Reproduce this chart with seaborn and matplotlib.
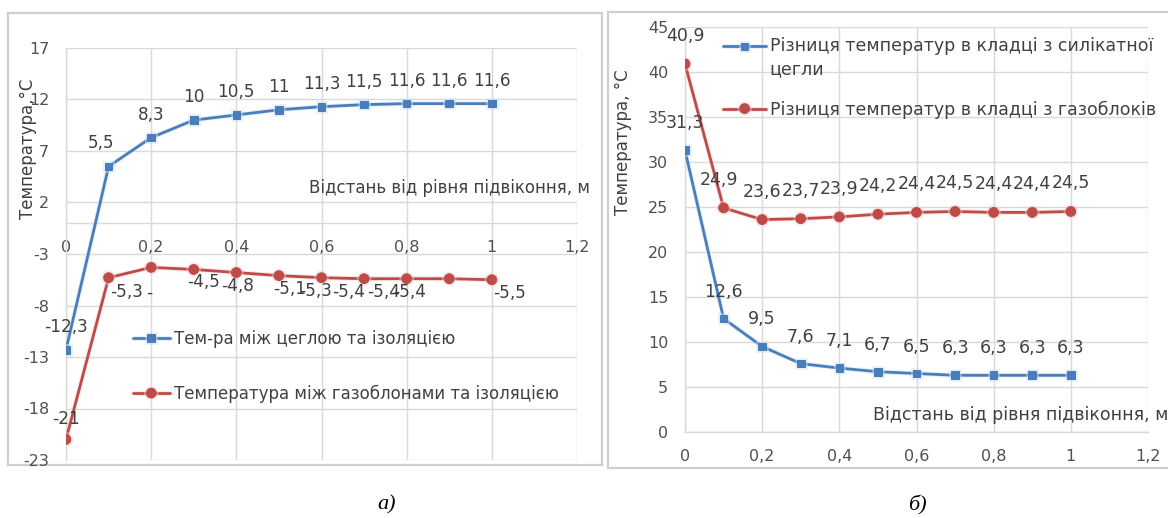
import matplotlib
matplotlib.use("Agg")
import matplotlib.pyplot as plt
import matplotlib.patheffects as pe
import matplotlib.transforms as mtransforms
from matplotlib.patches import Rectangle
from matplotlib.transforms import Bbox, TransformedBbox
from matplotlib.legend_handler import HandlerLine2D
import pandas as pd
import seaborn as sns

# ---------------- data ----------------
distance = [0.0, 0.1, 0.2, 0.3, 0.4, 0.5, 0.6, 0.7, 0.8, 0.9, 1.0]

# chart a)
brick_insul = [-12.3, 5.5, 8.3, 10, 10.5, 11, 11.3, 11.5, 11.6, 11.6, 11.6]
gasblock_insul = [-21, -5.3, -4.3, -4.5, -4.8, -5.1, -5.3, -5.4, -5.4, -5.4, -5.5]
gasblock_insul_labels = ["-21", "-5,3", "-", "-4,5", "-4,8", "-5,1", "-5,3", "-5,4", "-5,4", "-5,4", "-5,5"]
name_a_blue = "Тем-ра між цеглою та ізоляцією"
name_a_red = "Температура між газоблонами та ізоляцією"

# chart б)
silicate_diff = [31.3, 12.6, 9.5, 7.6, 7.1, 6.7, 6.5, 6.3, 6.3, 6.3, 6.3]
gasblock_diff = [40.9, 24.9, 23.6, 23.7, 23.9, 24.2, 24.4, 24.5, 24.4, 24.4, 24.5]
name_b_blue = "Різниця температур в кладці з силікатної\nцегли"
name_b_red = "Різниця температур в кладці з газоблоків"

x_ticks = [0, 0.2, 0.4, 0.6, 0.8, 1.0, 1.2]
x_ticklabels = ["0", "0,2", "0,4", "0,6", "0,8", "1", "1,2"]
ya_ticks = [-23, -18, -13, -8, -3, 2, 7, 12, 17]
yb_ticks = [0, 5, 10, 15, 20, 25, 30, 35, 40, 45]

xlabel = "Відстань від рівня підвіконня, м"

# ---------------- style ----------------
BLUE = "#4a7ebb"
RED = "#be4b48"
GRID = "#d9d9d9"
TXT = "#404040"
FSA = 12.2   # chart a) texts
FSB = 12.5   # chart б) texts
TFS = 11.5   # tick labels

sns.set_theme(style="white")
plt.rcParams["font.family"] = ["DejaVu Sans"]

W, H = 1168, 518
fig = plt.figure(figsize=(W / 100, H / 100), dpi=100)

def fx(px):
    return px / W

def fy(py):
    return 1 - py / H

# chart boxes
for (x0, y0, x1, y1) in [(8, 13, 602, 465), (608, 12, 1172, 468)]:
    fig.patches.append(Rectangle((fx(x0), fy(y1)), fx(x1 - x0), (y1 - y0) / H,
                                 transform=fig.transFigure, facecolor="white",
                                 edgecolor="#cfcfcf", linewidth=1.6, zorder=-10))

axA = fig.add_axes([fx(66), fy(460), fx(577 - 66), (460 - 48) / H])
axB = fig.add_axes([fx(685), fy(432), fx(1148 - 685), (432 - 27) / H])
axA.set_zorder(5)
axB.set_zorder(5)

def fmt(v):
    s = f"{v:g}"
    return s.replace(".", ",")

def style_axes(ax, yticks):
    ax.set_facecolor("none")
    ax.set_xlim(0, 1.2)
    ax.set_ylim(min(yticks), max(yticks))
    ax.set_xticks(x_ticks)
    ax.set_xticklabels(x_ticklabels)
    ax.set_yticks(yticks)
    ax.set_yticklabels([fmt(t) for t in yticks])
    ax.grid(True, color=GRID, linewidth=1.0)
    ax.tick_params(axis="both", length=0, labelsize=TFS, colors="#505050")
    ax.tick_params(axis="x", pad=12)
    ax.tick_params(axis="y", pad=12)
    for s in ["top", "right"]:
        ax.spines[s].set_visible(False)
    ax.spines["bottom"].set_position(("data", 0))
    ax.spines["left"].set_position(("data", 0))
    for s in ["bottom", "left"]:
        ax.spines[s].set_color(GRID)
        ax.spines[s].set_linewidth(1.0)

def draw_series(ax, y, color, marker, ms, label, halo):
    df = pd.DataFrame({"x": distance, "y": y})
    sns.lineplot(data=df, x="x", y="y", ax=ax, color=color, marker=marker,
                 markersize=ms, markeredgecolor=color, linewidth=2.0,
                 label=label, zorder=3)
    ln = ax.lines[-1]
    ln.set_path_effects([pe.Stroke(linewidth=3.6, foreground=halo, alpha=0.45), pe.Normal()])

class TopHandler(HandlerLine2D):
    """Legend handle aligned with the first line of a two-line label."""
    def __init__(self, shift, **kw):
        super().__init__(**kw)
        self.shift = shift

    def create_artists(self, legend, orig_handle, xdescent, ydescent, width,
                       height, fontsize, trans):
        t = mtransforms.Affine2D().translate(0, self.shift) + trans
        return super().create_artists(legend, orig_handle, xdescent, ydescent,
                                      width, height, fontsize, t)

# ---- chart a)
style_axes(axA, ya_ticks)
draw_series(axA, brick_insul, BLUE, "s", 5.5, name_a_blue, "#cfe2f6")
draw_series(axA, gasblock_insul, RED, "o", 7, name_a_red, "#f3d2d2")

blue_a_dx = [0, -8, 0, 0, 0, 0, 0, 0, 0, 0, 0]
for xv, yv, dx in zip(distance, brick_insul, blue_a_dx):
    axA.annotate(fmt(yv), (xv, yv), xytext=(dx, 23), textcoords="offset pixels",
                 ha="center", va="center", fontsize=FSA, color=TXT)
red_a_dx = [0, 18, -2, 10, 1, 11, -6, -16, -23, -40, 18]
red_a_dy = [20, -14, -25, -13, -13, -13, -13, -13, -13, -13, -13]
for xv, yv, lab, dx, dy in zip(distance, gasblock_insul, gasblock_insul_labels, red_a_dx, red_a_dy):
    axA.annotate(lab, (xv, yv), xytext=(dx, dy), textcoords="offset pixels",
                 ha="center", va="center", fontsize=FSA, color=TXT)

axA.set_xlabel(xlabel, fontsize=12, color=TXT, ha="right", va="center")
axA.xaxis.set_label_coords(1.025, 0.66)
axA.set_ylabel("Температура,°С", fontsize=12, color=TXT, va="center")
axA.yaxis.set_label_coords(-0.074, 0.755)
clipA = TransformedBbox(Bbox([[fx(8), fy(465)], [fx(598), fy(13)]]), fig.transFigure)
axA.xaxis.label.set_clip_box(clipA)
axA.xaxis.label.set_clip_on(True)

axA.legend(loc="center left", bbox_to_anchor=(0.131, 0.227), frameon=False,
           fontsize=12, handlelength=2.2, handletextpad=0.25, labelspacing=2.2,
           borderpad=0, borderaxespad=0, labelcolor=TXT)

# ---- chart б)
style_axes(axB, yb_ticks)
draw_series(axB, silicate_diff, BLUE, "s", 5.5, name_b_blue, "#cfe2f6")
draw_series(axB, gasblock_diff, RED, "o", 7, name_b_red, "#f3d2d2")

for xv, yv in zip(distance, silicate_diff):
    axB.annotate(fmt(yv), (xv, yv), xytext=(0, 27), textcoords="offset pixels",
                 ha="center", va="center", fontsize=FSB, color=TXT)
red_b_dx = [0, -5, 0, 0, 0, 0, 0, 0, 0, 0, 0]
for xv, yv, dx in zip(distance, gasblock_diff, red_b_dx):
    axB.annotate(fmt(yv), (xv, yv), xytext=(dx, 28), textcoords="offset pixels",
                 ha="center", va="center", fontsize=FSB, color=TXT)

axB.set_xlabel(xlabel, fontsize=FSB, color=TXT, ha="right", va="center")
axB.xaxis.set_label_coords(1.045, 0.042)
axB.set_ylabel("Температура, °С", fontsize=12, color=TXT, va="center")
axB.yaxis.set_label_coords(-0.134, 0.715)

hB, lB = axB.get_legend_handles_labels()
legB = axB.legend(hB, lB, loc="upper left", bbox_to_anchor=(0.082, 0.975), frameon=False,
                  fontsize=FSB, handlelength=2.5, handletextpad=0.2, labelspacing=1.25,
                  borderpad=0, borderaxespad=0, labelcolor=TXT,
                  handler_map={hB[0]: TopHandler(shift=9)})
legB.get_texts()[0].set_linespacing(1.4)

# captions
fig.text(fx(387), fy(505), "а)", ha="center", va="center", fontsize=16,
         fontstyle="italic", family="Liberation Serif", color="black")
fig.text(fx(917), fy(505), "б)", ha="center", va="center", fontsize=16,
         fontstyle="italic", family="Liberation Serif", color="black")

fig.savefig("out.png", dpi=100, facecolor="white")
